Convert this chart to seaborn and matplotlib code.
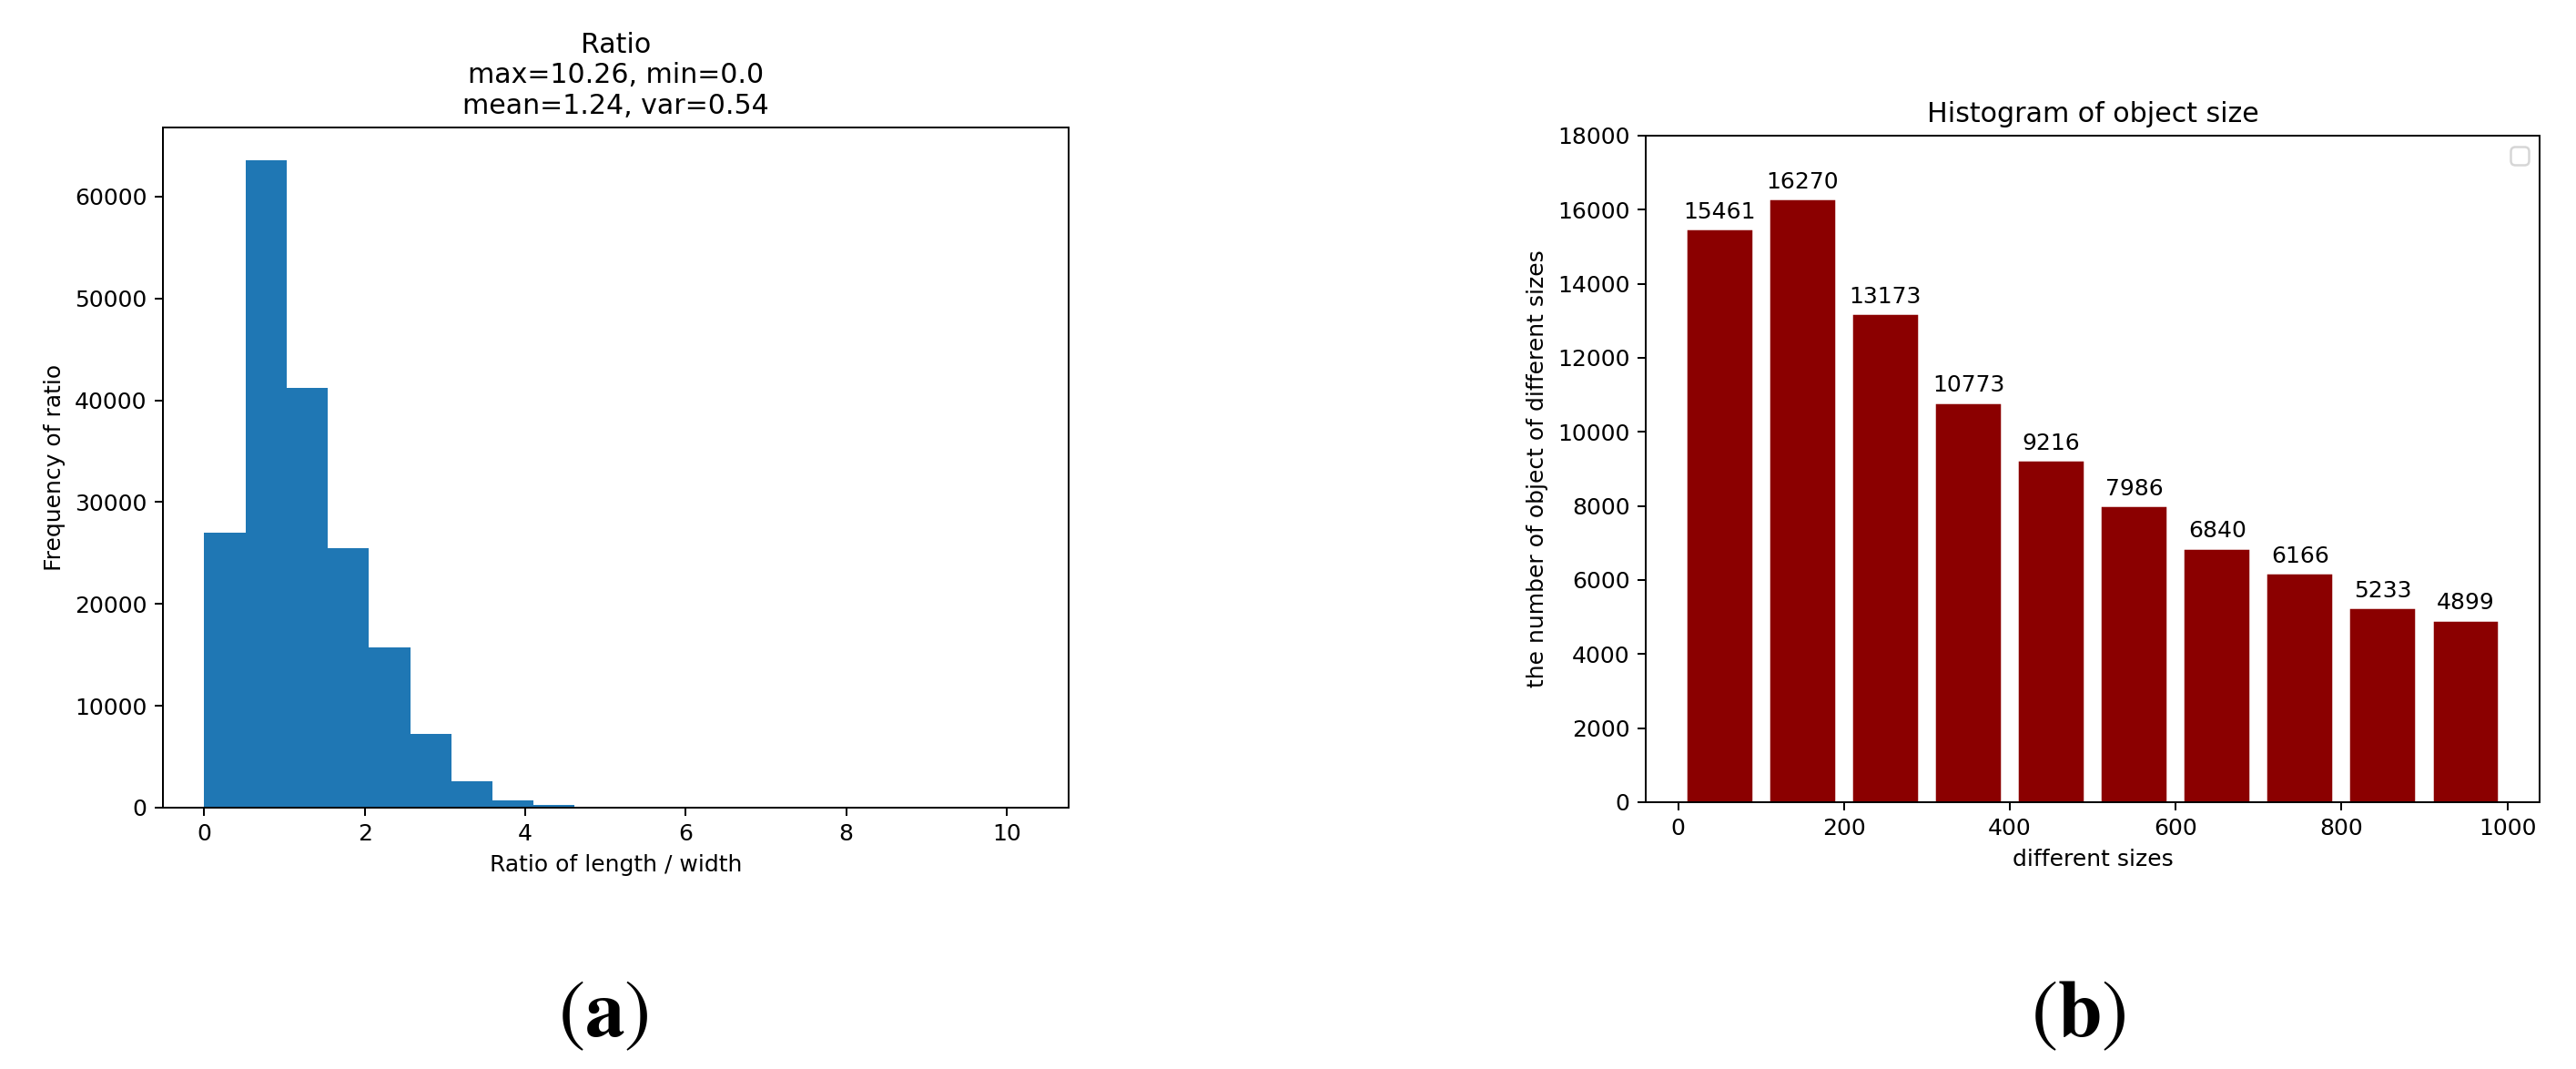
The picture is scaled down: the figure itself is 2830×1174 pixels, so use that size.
import matplotlib
matplotlib.use("Agg")
import matplotlib.pyplot as plt
import numpy as np
import pandas as pd
import seaborn as sns

# Histogramme (a) : ratio longueur / largeur, 20 classes entre 0 et 10.26
ratio_min, ratio_max, n_bins = 0.0, 10.26, 20
ratio_counts = [27000, 63600, 41200, 25500, 15750, 7250, 2580, 740, 280, 70,
                25, 10, 5, 3, 2, 1, 1, 0, 0, 1]

# Histogramme (b) : taille des objets
size_centers = [50, 150, 250, 350, 450, 550, 650, 750, 850, 950]
size_counts = [15461, 16270, 13173, 10773, 9216, 7986, 6840, 6166, 5233, 4899]

plt.rcParams["mathtext.fontset"] = "stix"

edges = np.linspace(ratio_min, ratio_max, n_bins + 1)
df_ratio = pd.DataFrame({"ratio": (edges[:-1] + edges[1:]) / 2,
                         "count": ratio_counts})

fig = plt.figure(figsize=(2830 / 180, 1174 / 180), dpi=180)
ax1 = fig.add_axes([0.0633, 0.2445, 0.3516, 0.6363])
ax2 = fig.add_axes([0.6389, 0.2496, 0.3470, 0.6235])

# (a)
sns.histplot(data=df_ratio, x="ratio", weights="count", bins=n_bins,
             binrange=(ratio_min, ratio_max), color="#1f77b4",
             alpha=1, linewidth=0, ax=ax1)
ax1.set_title("Ratio\nmax=10.26, min=0.0\nmean=1.24, var=0.54")
ax1.set_xlabel("Ratio of length / width")
ax1.set_ylabel("Frequency of ratio")

# (b)
sns.barplot(x=size_centers, y=size_counts, native_scale=True, color="darkred",
            saturation=1, edgecolor="white", linewidth=0.6, errorbar=None, ax=ax2)
ax2.bar_label(ax2.containers[0], padding=3)
ax2.set_ylim(0, 18000)
ax2.set_yticks(range(0, 18001, 2000))
ax2.set_title("Histogram of object size")
ax2.set_xlabel("different sizes")
ax2.set_ylabel("the number of object of different sizes")
ax2.legend(handles=[], loc="upper right")

fig.text(663 / 2830, 1 - 1114 / 1174, r"$(\mathbf{a})$", fontsize=35,
         ha="center", va="center")
fig.text(2283 / 2830, 1 - 1114 / 1174, r"$(\mathbf{b})$", fontsize=35,
         ha="center", va="center")

plt.savefig("out.png", dpi=180)
